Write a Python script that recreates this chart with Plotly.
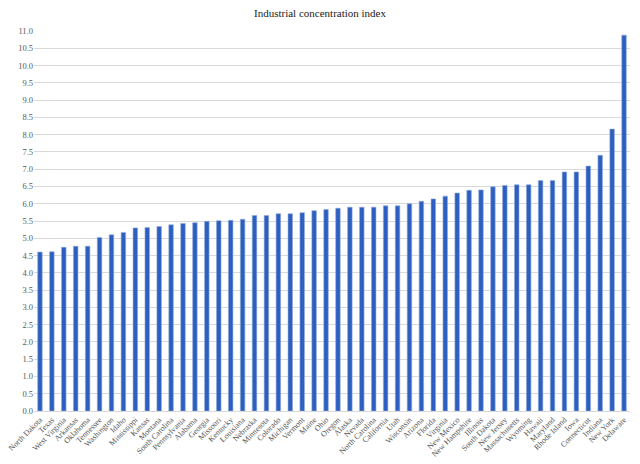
import plotly.graph_objects as go

states = ["North Dakota", "Texas", "West Virginia", "Arkansas", "Oklahoma", "Tennessee",
          "Washington", "Idaho", "Mississippi", "Kansas", "Montana", "South Carolina",
          "Pennsylvania", "Alabama", "Georgia", "Missouri", "Kentucky", "Louisiana",
          "Nebraska", "Minnesota", "Colorado", "Michigan", "Vermont", "Maine", "Ohio",
          "Oregon", "Alaska", "Nevada", "North Carolina", "California", "Utah",
          "Wisconsin", "Arizona", "Florida", "Virginia", "New Mexico", "New Hampshire",
          "Illinois", "South Dakota", "New Jersey", "Massachusetts", "Wyoming", "Hawaii",
          "Maryland", "Rhode Island", "Iowa", "Connecticut", "Indiana", "New York",
          "Delaware"]

index_values = [4.60, 4.61, 4.74, 4.77, 4.77, 5.02, 5.10, 5.17, 5.30, 5.31, 5.34, 5.39,
                5.43, 5.45, 5.49, 5.51, 5.52, 5.55, 5.66, 5.66, 5.71, 5.71, 5.74, 5.80,
                5.83, 5.87, 5.90, 5.90, 5.90, 5.94, 5.94, 6.00, 6.07, 6.14, 6.22, 6.31,
                6.39, 6.40, 6.49, 6.53, 6.55, 6.55, 6.67, 6.67, 6.92, 6.92, 7.09, 7.40,
                8.16, 10.88]

y_ticks = [i * 0.5 for i in range(23)]

serif = "Liberation Serif, DejaVu Serif, serif"

fig = go.Figure(go.Bar(
    x=states, y=index_values,
    marker=dict(color="#2C5FC0", line=dict(color="#8FA9DC", width=0.6)),
))

# page body has an 8px margin, so the figure is sized/positioned to compensate
fig.update_layout(
    width=632, height=456,
    margin=dict(l=26, r=10, t=23, b=53),
    paper_bgcolor="white", plot_bgcolor="white",
    bargap=0.62,
    showlegend=False,
    title=dict(text="Industrial concentration index", x=312 / 632, xanchor="center",
               y=1 - 5 / 456, yanchor="middle",
               font=dict(family=serif, size=11, color="#1a1a1a")),
    xaxis=dict(tickangle=-45, tickfont=dict(family=serif, size=8, color="#555555"),
               showgrid=False, showline=True, linecolor="#D9D9D9", ticks="",
               automargin=False),
    yaxis=dict(range=[0, 11], tickvals=y_ticks, tickformat=".1f",
               tickfont=dict(family=serif, size=8.5, color="#595959"),
               showgrid=True, gridcolor="#D9D9D9", gridwidth=1, zeroline=False,
               showline=False, ticks="", automargin=False),
)

fig.write_html("out.html")
